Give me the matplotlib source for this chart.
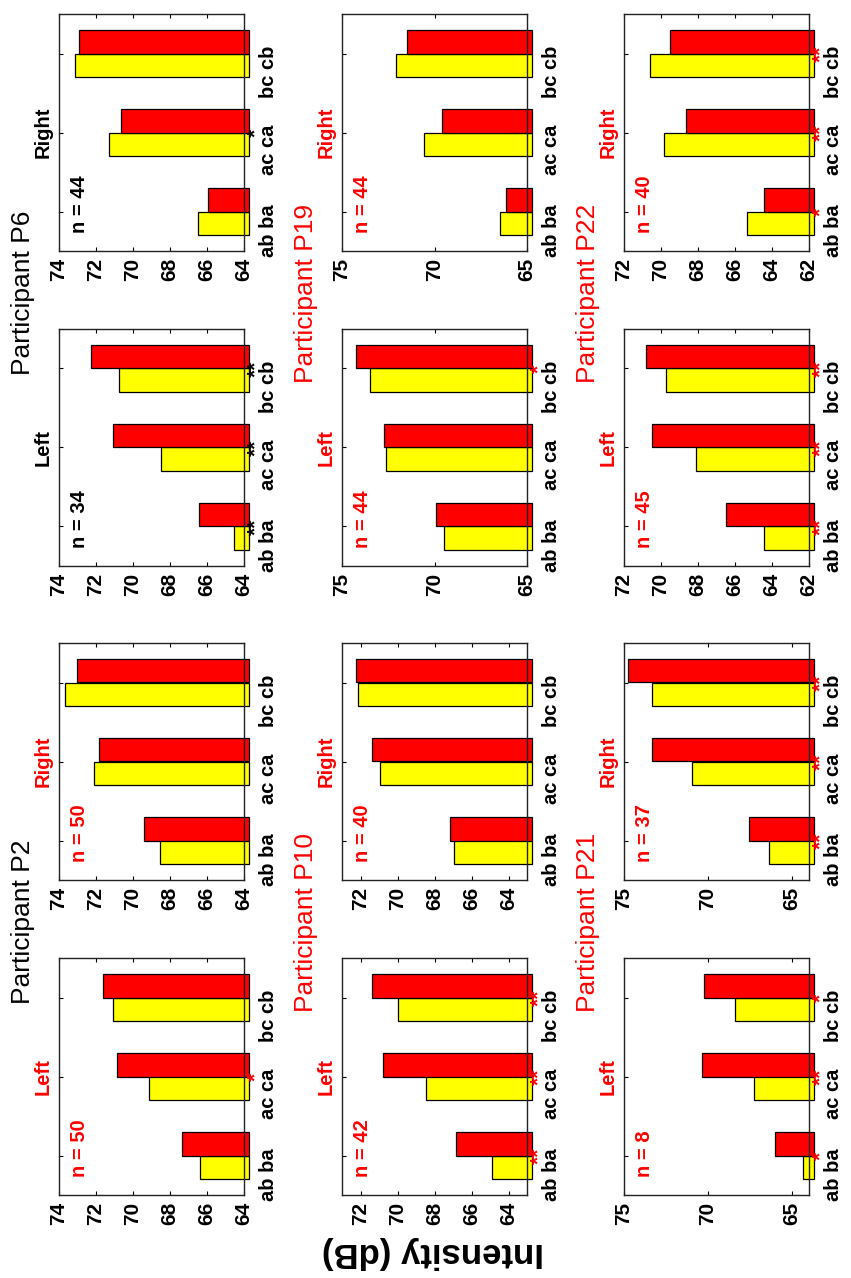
import numpy as np
import matplotlib
matplotlib.use("Agg")
import matplotlib.pyplot as plt
import matplotlib.transforms as mtransforms

plt.rcParams['font.family'] = ['Liberation Sans', 'DejaVu Sans']

# Data
participants = ['P2', 'P6', 'P10', 'P19', 'P21', 'P22']
pairs = ['ab ba', 'ac ca', 'bc cb']

yellow_left = [[66.37, 69.11, 71.07],
               [64.54, 68.47, 70.76],
               [64.87, 68.46, 69.96],
               [69.51, 72.62, 73.48],
               [64.38, 67.25, 68.42],
               [64.41, 68.11, 69.75]]
red_left = [[67.36, 70.85, 71.61],
            [66.43, 71.08, 72.29],
            [66.82, 70.80, 71.36],
            [69.94, 72.73, 74.25],
            [66.04, 70.36, 70.24],
            [66.49, 70.50, 70.81]]
yellow_right = [[68.55, 72.13, 73.66],
                [66.49, 71.30, 73.14],
                [66.93, 70.95, 72.11],
                [66.45, 70.55, 72.07],
                [66.40, 70.96, 73.35],
                [65.35, 69.86, 70.59]]
red_right = [[69.43, 71.82, 73.01],
             [65.96, 70.63, 72.92],
             [67.18, 71.36, 72.23],
             [66.13, 69.60, 71.51],
             [67.57, 73.35, 74.76],
             [64.43, 68.65, 69.53]]

n_left = [50, 34, 42, 44, 8, 45]
n_right = [50, 44, 40, 44, 37, 40]

stars_left = [['', '*', ''],
              ['**', '**', '**'],
              ['**', '**', '**'],
              ['', '', '*'],
              ['*', '**', '*'],
              ['**', '**', '**']]
stars_right = [['', '', ''],
               ['', '*', ''],
               ['', '', ''],
               ['', '', ''],
               ['**', '**', '**'],
               ['*', '**', '**']]

# intensity axis range and tick step per participant
lims = [(64, 74), (64, 74), (63, 73), (65, 75), (64, 75), (62, 72)]
steps = [2, 2, 2, 5, 5, 2]

title_colors = ['black', 'black', 'red', 'red', 'red', 'red']
label_colors = ['red', 'black', 'red', 'red', 'red', 'red']

# layout (page is portrait, the panels are drawn turned by 90 degrees)
W, H = 851, 1278
fig = plt.figure(figsize=(W / 100, H / 100), dpi=100)

col_left = [59, 342, 624]
ax_w = 185
ax_h = 237
# top edge of each axes row, in pixels from the top
row_top = [14, 329, 643, 958]

# participant -> (column, row of "Right" panel); "Left" panel is the next row
placement = {'P6': (0, 0), 'P2': (0, 2), 'P19': (1, 0), 'P10': (1, 2),
             'P22': (2, 0), 'P21': (2, 2)}

bar_h = 0.3
off = 0.15
y = np.arange(1, 4)


def draw_panel(ax, yel, red, lim, step, n, stars, side, col):
    lo, hi = lim
    base = lo - 0.027 * (hi - lo)
    ax.barh(y - off, np.array(yel) - base, left=base, height=bar_h,
            color='#ffff00', edgecolor='black', linewidth=0.9, clip_on=False, zorder=2)
    ax.barh(y + off, np.array(red) - base, left=base, height=bar_h,
            color='#ff0000', edgecolor='black', linewidth=0.9, clip_on=False, zorder=2)
    ax.set_xlim(hi, lo)
    ax.set_ylim(0.5, 3.5)
    first = np.ceil(lo / step) * step
    ticks = np.arange(first, hi + 0.01, step)
    ax.set_xticks(ticks)
    ax.set_xticklabels([f'{t:g}' for t in ticks])
    ax.set_yticks(y)
    ax.set_yticklabels(pairs)
    ax.tick_params(axis='x', direction='in', top=True, bottom=True, length=3,
                   labelrotation=90, labelsize=15, pad=5)
    ax.tick_params(axis='y', direction='in', left=True, right=True, length=3,
                   labelleft=False, labelright=True, labelrotation=90,
                   labelsize=14.5, pad=11)
    for lab in ax.get_xticklabels() + ax.get_yticklabels():
        lab.set_fontweight('bold')
    for s in ax.spines.values():
        s.set_linewidth(1.0)
        s.set_color('#222222')
    ax.text(-0.035, 0.5, side, transform=ax.transAxes, rotation=90,
            ha='right', va='center', fontsize=14.5, fontweight='bold', color=col)
    ax.text(0.11, 0.075, f'n = {n}', transform=ax.transAxes, rotation=90,
            ha='center', va='bottom', fontsize=14.5, fontweight='bold', color=col)
    trans = mtransforms.blended_transform_factory(ax.transAxes, ax.transData)
    for yi, st in zip(y, stars):
        if st:
            ax.text(1.015, yi, st, transform=trans, rotation=90, ha='left',
                    va='center', fontsize=15, fontweight='bold', color=col)


for i, p in enumerate(participants):
    c, r = placement[p]
    x0 = col_left[c] / W
    for k, (side, yel, red, n, st) in enumerate([
            ('Right', yellow_right[i], red_right[i], n_right[i], stars_right[i]),
            ('Left', yellow_left[i], red_left[i], n_left[i], stars_left[i])]):
        top = row_top[r + k]
        ax = fig.add_axes([x0, 1 - (top + ax_h) / H, ax_w / W, ax_h / H])
        draw_panel(ax, yel, red, lims[i], steps[i], n, st, side, label_colors[i])
    mid = (row_top[r] + row_top[r + 1] + ax_h) / 2 + 3
    fig.text((col_left[c] - 36) / W, 1 - mid / H, f'Participant {p}',
             rotation=90, ha='center', va='center', fontsize=19,
             color=title_colors[i])

fig.text(433 / W, 1 - 1252 / H, 'Intensity (dB)', rotation=180,
         ha='center', va='center', fontsize=25, fontweight='bold')

fig.savefig('out.png', dpi=100)
